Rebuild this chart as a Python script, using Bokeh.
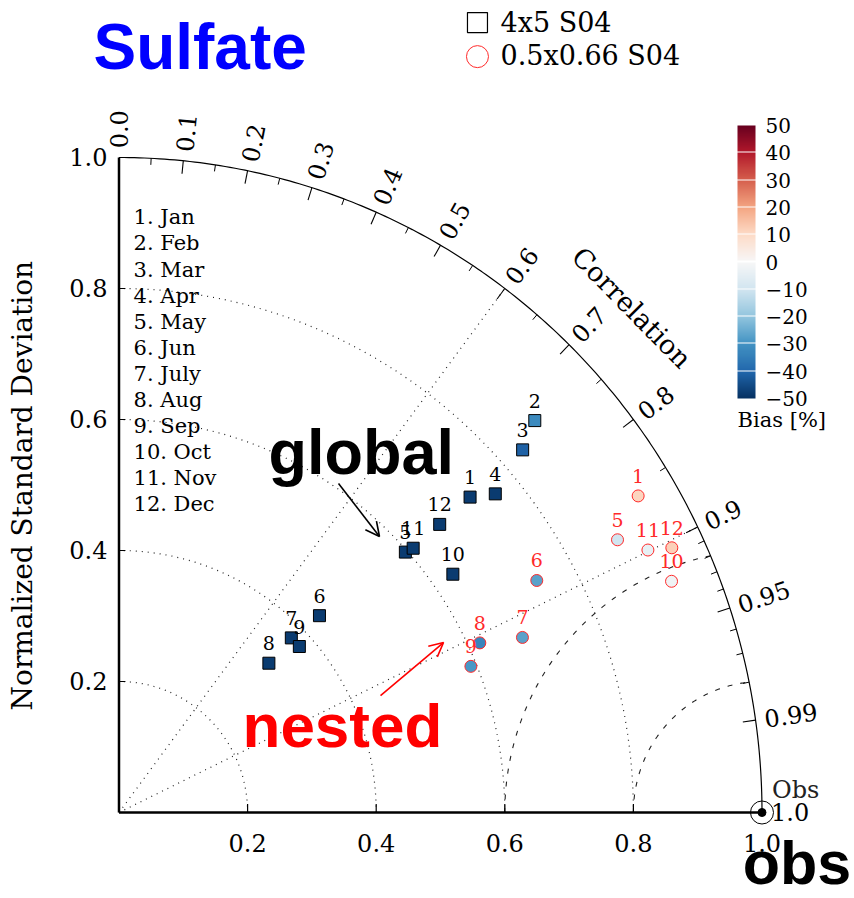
import numpy as np
from bokeh.plotting import figure
from bokeh.models import (Range1d, ColumnDataSource, ColorBar, LinearColorMapper,
                          FixedTicker, Arrow, OpenHead)
from bokeh.core.properties import value
from bokeh.transform import linear_cmap
from bokeh.embed import file_html
from bokeh.resources import INLINE

# ---------------- data ----------------
month_list = ["1. Jan", "2. Feb", "3. Mar", "4. Apr", "5. May", "6. Jun",
              "7. July", "8. Aug", "9. Sep", "10. Oct", "11. Nov", "12. Dec"]

global_month = [1, 2, 3, 4, 5, 6, 7, 8, 9, 10, 11, 12]
global_std = [0.728, 0.881, 0.837, 0.761, 0.597, 0.433, 0.378, 0.326, 0.378, 0.634, 0.610, 0.665]
global_corr = [0.750, 0.734, 0.750, 0.769, 0.746, 0.720, 0.709, 0.715, 0.742, 0.819, 0.750, 0.750]
global_bias = [-48, -32, -41, -48, -48, -48, -48, -48, -48, -48, -48, -48]

nested_month = [1, 5, 6, 7, 8, 9, 10, 11, 12]
nested_std = [0.941, 0.880, 0.740, 0.682, 0.618, 0.591, 0.929, 0.915, 0.950]
nested_corr = [0.858, 0.881, 0.878, 0.920, 0.908, 0.926, 0.925, 0.899, 0.905]
nested_bias = [11, -10, -27, -27, -33, -29, -2, -4, 12]

std_ticks = [0.2, 0.4, 0.6, 0.8, 1.0]
std_tick_labels = ["0.2", "0.4", "0.6", "0.8", "1.0"]
std_arcs = [0.2, 0.4, 0.6, 0.8]
corr_major = [0.0, 0.1, 0.2, 0.3, 0.4, 0.5, 0.6, 0.7, 0.8, 0.9, 0.95, 0.99, 1.0]
corr_major_labels = ["0.0", "0.1", "0.2", "0.3", "0.4", "0.5", "0.6", "0.7", "0.8",
                     "0.9", "0.95", "0.99", "1.0"]
corr_minor = [0.05, 0.15, 0.25, 0.35, 0.45, 0.55, 0.65, 0.75, 0.85,
              0.91, 0.92, 0.93, 0.94, 0.96, 0.97, 0.98]
corr_rays = [0.6, 0.9]
rms_arcs = [0.2, 0.4]
bias_ticks = [-50, -40, -30, -20, -10, 0, 10, 20, 30, 40, 50]
bias_tick_labels = ["\u221250", "\u221240", "\u221230", "\u221220", "\u221210", "0",
                    "10", "20", "30", "40", "50"]
rdbu_anchors = ["#053061", "#2166ac", "#4393c3", "#92c5de", "#d1e5f0", "#f7f7f7",
                "#fddbc7", "#f4a582", "#d6604d", "#b2182b", "#67001f"]

# ---------------- layout ----------------
W, H = 854, 898
X0, X1 = -0.18429, 1.14386
Y0, Y1 = -0.13130, 1.23969
SX = W / (X1 - X0)
SY = H / (Y1 - Y0)
SERIF = "DejaVu Serif"
BOLD = "Liberation Sans"


def hex2rgb(h):
    return tuple(int(h[i:i + 2], 16) for i in (1, 3, 5))


def interp_color(t):
    t = min(max(t, 0.0), 1.0) * (len(rdbu_anchors) - 1)
    i = min(int(t), len(rdbu_anchors) - 2)
    f = t - i
    a, b = hex2rgb(rdbu_anchors[i]), hex2rgb(rdbu_anchors[i + 1])
    return "#%02x%02x%02x" % tuple(int(round(a[k] + (b[k] - a[k]) * f)) for k in range(3))


pt_palette = [interp_color(i / 255) for i in range(256)]
cb_palette = []
for i in range(270):
    if i % 27 == 0 and i > 0:
        cb_palette.append("#ffffff")
    else:
        cb_palette.append(interp_color((i + 0.5) / 270))


def screen_angle(theta):
    return np.arctan2(SY * np.sin(theta), SX * np.cos(theta))


p = figure(width=W, height=H, x_range=Range1d(X0, X1), y_range=Range1d(Y0, Y1),
           x_axis_type=None, y_axis_type=None, output_backend="svg",
           toolbar_location=None, min_border=0)
p.grid.visible = False
p.outline_line_color = None
p.background_fill_color = "white"

# ----- std-dev arcs (dotted) -----
phi = np.linspace(0, np.pi / 2, 200)
for r in std_arcs:
    p.line(r * np.cos(phi), r * np.sin(phi), line_color="#222222", line_width=1.2,
           line_dash="1 5")

# ----- correlation rays (dotted) -----
for c in corr_rays:
    th = np.arccos(c)
    p.line([0, np.cos(th)], [0, np.sin(th)], line_color="#222222", line_width=1.2,
           line_dash="1 5")

# ----- RMS arcs around obs (dashed) -----
for r in rms_arcs:
    a = np.linspace(np.pi, np.arccos(-r / 2), 150)
    p.line(1 + r * np.cos(a), r * np.sin(a), line_color="#222222", line_width=1.1,
           line_dash="5 8")

# ----- outer arc and axes -----
p.line(np.cos(phi), np.sin(phi), line_color="black", line_width=1.2)
p.line([0, 0], [0, max(std_ticks)], line_color="black", line_width=2.5)
p.line([0, max(std_ticks)], [0, 0], line_color="black", line_width=2.5)

# axis ticks
st = np.array(std_ticks[:-1])
p.segment(x0=st, y0=np.zeros_like(st), x1=st, y1=np.full_like(st, 0.013),
          line_color="black", line_width=1.2)
p.segment(x0=np.zeros_like(st), y0=st, x1=np.full_like(st, 0.010), y1=st,
          line_color="black", line_width=1.2)

# correlation ticks
cm = np.array([c for c in corr_major if 0 < c < 1])
thm = np.arccos(cm)
p.segment(x0=0.98 * np.cos(thm), y0=0.98 * np.sin(thm), x1=np.cos(thm), y1=np.sin(thm),
          line_color="black", line_width=1.1)
cn = np.array(corr_minor)
thn = np.arccos(cn)
p.segment(x0=0.99 * np.cos(thn), y0=0.99 * np.sin(thn), x1=np.cos(thn), y1=np.sin(thn),
          line_color="black", line_width=1.0)

# correlation labels
thl = np.arccos(np.array(corr_major))
lab_r = 1.014
p.text(x=lab_r * np.cos(thl), y=lab_r * np.sin(thl), text=corr_major_labels,
       angle=screen_angle(thl), text_align="left", text_baseline="middle",
       text_font=value(SERIF), text_font_size=value("24px"), text_color="black")

th_c = np.arccos(0.719)
p.text(x=[1.109 * np.cos(th_c)], y=[1.109 * np.sin(th_c)], text=["Correlation"],
       angle=[screen_angle(th_c) - np.pi / 2], text_align="center",
       text_baseline="middle", text_font=value(SERIF), text_font_size=value("27px"),
       text_color="black")

# std-dev tick labels
p.text(x=[-0.018] * len(std_ticks), y=std_ticks, text=std_tick_labels,
       text_align="right", text_baseline="middle", text_font=value(SERIF),
       text_font_size=value("24px"), text_color="black")
p.text(x=std_ticks, y=[-0.046] * len(std_ticks), text=std_tick_labels,
       text_align="center", text_baseline="middle", text_font=value(SERIF),
       text_font_size=value("24px"), text_color="black")
p.text(x=[-0.150], y=[0.499], text=["Normalized Standard Deviation"],
       angle=[np.pi / 2], text_align="center", text_baseline="middle",
       text_font=value(SERIF), text_font_size=value("28px"), text_color="black")

# month list
p.text(x=[0.0226] * len(month_list),
       y=[0.9084 - 0.0397 * i for i in range(len(month_list))], text=month_list,
       text_align="left", text_baseline="middle", text_font=value(SERIF),
       text_font_size=value("21px"), text_color="black")

# ----- obs -----
p.scatter(x=[1.0], y=[0.0], marker="circle", size=23, fill_color=None,
          line_color="black", line_width=1)
p.scatter(x=[1.0], y=[0.0], marker="circle", size=8, fill_color="black",
          line_color="black")
p.text(x=[1.0155], y=[0.035], text=["Obs"], text_align="left", text_baseline="middle",
       text_font=value(SERIF), text_font_size=value("24px"), text_color="#222222")

# ----- data points -----
gth = np.arccos(np.array(global_corr))
gs = np.array(global_std)
src_g = ColumnDataSource(dict(x=gs * np.cos(gth), y=gs * np.sin(gth), bias=global_bias,
                              lab=[str(m) for m in global_month]))
nth = np.arccos(np.array(nested_corr))
ns = np.array(nested_std)
src_n = ColumnDataSource(dict(x=ns * np.cos(nth), y=ns * np.sin(nth), bias=nested_bias,
                              lab=[str(m) for m in nested_month]))

p.scatter("x", "y", source=src_g, marker="square", size=12,
          fill_color=linear_cmap("bias", pt_palette, -50, 50), line_color="black",
          line_width=1)
p.text("x", "y", text="lab", source=src_g, y_offset=-20, text_align="center",
       text_baseline="middle", text_font=value(SERIF), text_font_size=value("19px"),
       text_color="black")
p.scatter("x", "y", source=src_n, marker="circle", size=12,
          fill_color=linear_cmap("bias", pt_palette, -50, 50), line_color="#ff2a2a",
          line_width=1)
p.text("x", "y", text="lab", source=src_n, y_offset=-20, text_align="center",
       text_baseline="middle", text_font=value(SERIF), text_font_size=value("19px"),
       text_color="#ff2a2a")

# ----- legend (top) -----
p.scatter(x=[0.5575], y=[1.206], marker="square", size=20, fill_color=None,
          line_color="black", line_width=1.2)
p.scatter(x=[0.5575], y=[1.154], marker="circle", size=22, fill_color=None,
          line_color="#ff2a2a", line_width=1)
p.text(x=[0.5933, 0.5933], y=[1.206, 1.155], text=["4x5 S04", "0.5x0.66 S04"],
       text_align="left", text_baseline="middle", text_font=value(SERIF),
       text_font_size=value("27px"), text_color="black")

# ----- big annotations -----
p.text(x=[-0.0397], y=[1.168], text=["Sulfate"], text_align="left",
       text_baseline="alphabetic", text_font=value(BOLD), text_font_style="bold",
       text_font_size=value("64px"), text_color="#0000ff")
p.text(x=[0.2325], y=[0.5497], text=["global"], text_align="left",
       text_baseline="alphabetic", text_font=value(BOLD), text_font_style="bold",
       text_font_size=value("63px"), text_color="black")
p.text(x=[0.1921], y=[0.1329], text=["nested"], text_align="left",
       text_baseline="alphabetic", text_font=value(BOLD), text_font_style="bold",
       text_font_size=value("62px"), text_color="#ff0000")
p.text(x=[0.9700], y=[-0.0778], text=["obs"], text_align="left",
       text_baseline="alphabetic", text_font=value(BOLD), text_font_style="bold",
       text_font_size=value("61px"), text_color="black")

p.add_layout(Arrow(end=OpenHead(size=14, line_color="black", line_width=1.6),
                   x_start=0.3414, y_start=0.5023, x_end=0.4051, y_end=0.4214,
                   line_color="black", line_width=1.6))
p.add_layout(Arrow(end=OpenHead(size=14, line_color="#ff0000", line_width=1.6),
                   x_start=0.4067, y_start=0.1786, x_end=0.5047, y_end=0.2595,
                   line_color="#ff0000", line_width=1.6))

# ----- colour bar -----
cb_mapper = LinearColorMapper(palette=cb_palette, low=-50, high=50)
cb = ColorBar(color_mapper=cb_mapper, ticker=FixedTicker(ticks=bias_ticks),
              major_label_overrides={t: l for t, l in zip(bias_ticks, bias_tick_labels)},
              width=18, height=273, location=(737, 500), orientation="vertical",
              padding=0, margin=0, label_standoff=10, major_tick_line_color=None,
              minor_tick_line_color=None, bar_line_color=None, border_line_color=None,
              background_fill_alpha=0, major_label_text_font=SERIF,
              major_label_text_font_size="20px", major_label_text_color="black")
p.add_layout(cb)
p.text(x=[0.962], y=[0.5985], text=["Bias [%]"], text_align="left",
       text_baseline="middle", text_font=value(SERIF), text_font_size=value("21px"),
       text_color="black")

open("out.html", "w").write(file_html(p, INLINE))
